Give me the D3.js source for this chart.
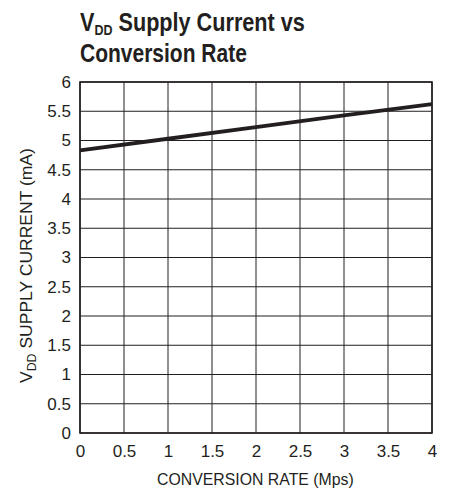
<!DOCTYPE html>
<html><head><meta charset="utf-8">
<script src="https://cdn.jsdelivr.net/npm/d3@7"></script>
<style>body{margin:0;background:#fff}svg{display:block}text{font-family:"Liberation Sans",Arial,sans-serif;fill:#231f20}</style>
</head><body>
<script>
const rateX = [0, 1, 2, 3, 4];
const currentY = [4.83, 5.03, 5.23, 5.43, 5.62];
const xTicks = [0, 0.5, 1, 1.5, 2, 2.5, 3, 3.5, 4];
const yTicks = [0, 0.5, 1, 1.5, 2, 2.5, 3, 3.5, 4, 4.5, 5, 5.5, 6];

const W = 459, H = 489;
const m = {l: 80, r: 27, t: 82, b: 56};
const svg = d3.select("body").append("svg").attr("width", W).attr("height", H);
const x = d3.scaleLinear().domain([0, 4]).range([m.l, W - m.r]);
const y = d3.scaleLinear().domain([0, 6]).range([H - m.b, m.t]);

// squeeze text horizontally to emulate a condensed face
function squeeze(sel, target, anchorX) {
  const w = sel.node().getBBox().width;
  const k = target / w;
  sel.attr("transform", `translate(${anchorX},0) scale(${k},1) translate(${-anchorX},0)`);
}

// title
const t = svg.append("text").attr("x", 80).attr("y", 31).attr("font-size", 26).attr("font-weight", "bold");
t.append("tspan").text("V");
t.append("tspan").attr("font-size", 15).attr("dy", 4).text("DD");
t.append("tspan").attr("dy", -4).text(" Supply Current vs");
squeeze(t, 225, 80);
const t2 = svg.append("text").attr("x", 80).attr("y", 62).attr("font-size", 25).attr("font-weight", "bold").text("Conversion Rate");
squeeze(t2, 167, 80);

// grid
const g = svg.append("g");
g.selectAll(".gx").data(xTicks).join("line")
  .attr("x1", d => x(d)).attr("x2", d => x(d)).attr("y1", y(0)).attr("y2", y(6))
  .attr("stroke", "#231f20").attr("stroke-width", 1);
g.selectAll(".gy").data(yTicks).join("line")
  .attr("y1", d => y(d)).attr("y2", d => y(d)).attr("x1", x(0)).attr("x2", x(4))
  .attr("stroke", "#231f20").attr("stroke-width", 1);
g.append("rect").attr("x", x(0)).attr("y", y(6)).attr("width", x(4) - x(0)).attr("height", y(0) - y(6))
  .attr("fill", "none").attr("stroke", "#231f20").attr("stroke-width", 1.6);

// tick labels via d3 axes
const xa = svg.append("g").attr("transform", `translate(0,${y(0)})`)
  .call(d3.axisBottom(x).tickValues(xTicks).tickSize(0).tickPadding(12).tickFormat(d3.format("")));
const ya = svg.append("g").attr("transform", `translate(${x(0)},0)`)
  .call(d3.axisLeft(y).tickValues(yTicks).tickSize(0).tickPadding(9).tickFormat(d3.format("")));
[xa, ya].forEach(a => { a.select(".domain").remove(); a.selectAll("text").attr("font-size", 17).attr("fill", "#231f20").attr("font-family", "Liberation Sans, Arial, sans-serif"); });

// axis titles
const xl = svg.append("text").attr("x", 157).attr("y", 485).attr("font-size", 16).text("CONVERSION RATE (Mps)");
squeeze(xl, 197, 157);
const yl = svg.append("text").attr("font-size", 17);
yl.append("tspan").text("V");
yl.append("tspan").attr("font-size", 12).attr("dy", 4).text("DD");
yl.append("tspan").attr("dy", -4).text(" SUPPLY CURRENT (mA)");
const yw = yl.node().getBBox().width;
yl.attr("transform", `translate(32,383) rotate(-90) scale(${235 / yw},1)`);

// data line
svg.append("path").datum(rateX.map((d, i) => [d, currentY[i]]))
  .attr("d", d3.line().x(d => x(d[0])).y(d => y(d[1])))
  .attr("fill", "none").attr("stroke", "#231f20").attr("stroke-width", 3.8);
</script>
</body></html>
